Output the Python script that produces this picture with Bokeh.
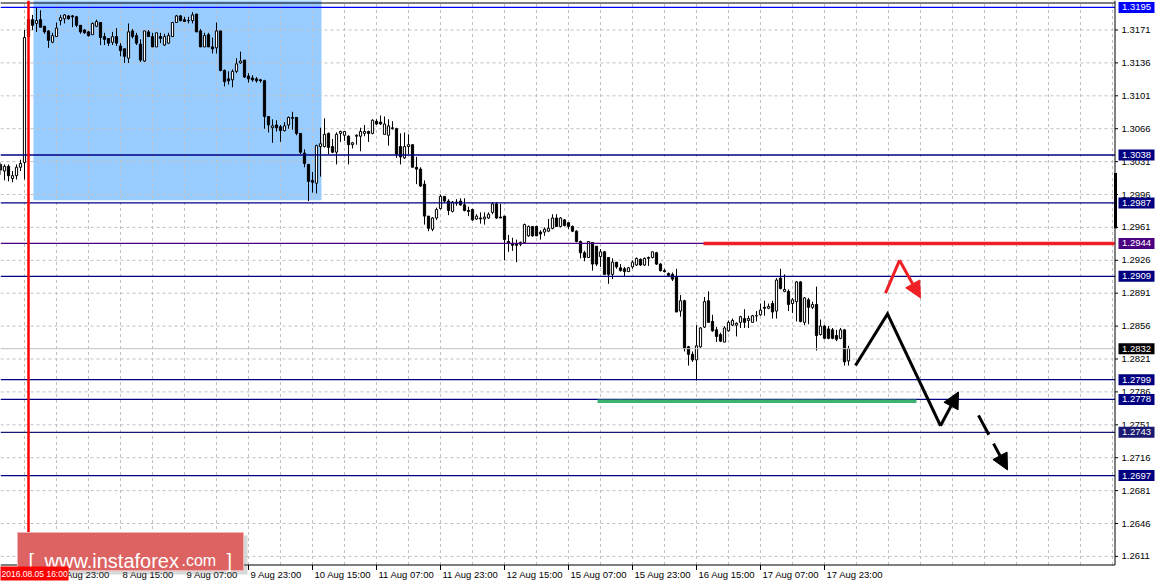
from bokeh.plotting import figure
from bokeh.models import Range1d, Arrow, NormalHead, ColumnDataSource
from bokeh.core.properties import value
from bokeh.embed import file_html
from bokeh.resources import INLINE

# ---------------- data (H1 bars, bar 0 = 2016.08.05 16:00) ----------------
bar_start = -7
opens = [1.3028, 1.3021, 1.3026, 1.3013, 1.3016, 1.3025, 1.3030,
 1.3164, 1.3182, 1.3178, 1.3182, 1.3175, 1.3170, 1.3158, 1.3164, 1.3181, 1.3183,
 1.3186, 1.3186, 1.3185, 1.3176, 1.3171, 1.3169, 1.3166, 1.3175, 1.3179, 1.3164,
 1.3162, 1.3158, 1.3164, 1.3154, 1.3151, 1.3141, 1.3170, 1.3165, 1.3156, 1.3138,
 1.3169, 1.3164, 1.3153, 1.3164, 1.3155, 1.3157, 1.3164, 1.3179, 1.3186, 1.3182,
 1.3181, 1.3181, 1.3188, 1.3170, 1.3153, 1.3166, 1.3153, 1.3152, 1.3170, 1.3128,
 1.3119, 1.3118, 1.3127, 1.3136, 1.3139, 1.3122, 1.3120, 1.3119, 1.3118, 1.3117,
 1.3079, 1.3067, 1.3070, 1.3068, 1.3064, 1.3070, 1.3077, 1.3078, 1.3061, 1.3040,
 1.3028, 1.3011, 1.3008, 1.3047, 1.3047, 1.3061, 1.3047, 1.3041, 1.3061, 1.3059,
 1.3058, 1.3049, 1.3058, 1.3058, 1.3061, 1.3063, 1.3061, 1.3074, 1.3073, 1.3060,
 1.3059, 1.3066, 1.3066, 1.3047, 1.3035, 1.3047, 1.3049, 1.3025, 1.3023, 1.3007,
 1.2973, 1.2959, 1.2971, 1.2981, 1.2994, 1.2989, 1.2978, 1.2987, 1.2989, 1.2985,
 1.2979, 1.2980, 1.2970, 1.2971, 1.2970, 1.2971, 1.2977, 1.2986, 1.2972, 1.2973,
 1.2946, 1.2944, 1.2943, 1.2943, 1.2945, 1.2952, 1.2962, 1.2962, 1.2956, 1.2956,
 1.2957, 1.2960, 1.2971, 1.2962, 1.2969, 1.2966, 1.2962, 1.2957, 1.2946, 1.2934,
 1.2929, 1.2945, 1.2941, 1.2930, 1.2935, 1.2929, 1.2911, 1.2924, 1.2918, 1.2917,
 1.2914, 1.2919, 1.2921, 1.2927, 1.2921, 1.2928, 1.2929, 1.2934, 1.2922, 1.2915,
 1.2912, 1.2911, 1.2908, 1.2872, 1.2883, 1.2834, 1.2826, 1.2820, 1.2834, 1.2855,
 1.2883, 1.2861, 1.2852, 1.2847, 1.2839, 1.2851, 1.2857, 1.2857, 1.2860, 1.2864,
 1.2862, 1.2860, 1.2867, 1.2868, 1.2876, 1.2875, 1.2880, 1.2872, 1.2907, 1.2893,
 1.2893, 1.2880, 1.2882, 1.2903, 1.2860, 1.2884, 1.2876, 1.2879, 1.2847, 1.2856,
 1.2853, 1.2852, 1.2846, 1.2843, 1.2852, 1.2819]
highs = [1.3030, 1.3028, 1.3028, 1.3021, 1.3028, 1.3033, 1.3171,
 1.3184, 1.3187, 1.3195, 1.3192, 1.3175, 1.3171, 1.3168, 1.3179, 1.3187, 1.3188,
 1.3187, 1.3187, 1.3186, 1.3176, 1.3172, 1.3170, 1.3179, 1.3182, 1.3179, 1.3168,
 1.3162, 1.3169, 1.3173, 1.3157, 1.3151, 1.3178, 1.3172, 1.3168, 1.3161, 1.3170,
 1.3171, 1.3168, 1.3168, 1.3168, 1.3167, 1.3168, 1.3179, 1.3187, 1.3187, 1.3185,
 1.3185, 1.3190, 1.3188, 1.3172, 1.3168, 1.3168, 1.3163, 1.3179, 1.3170, 1.3129,
 1.3127, 1.3129, 1.3141, 1.3148, 1.3139, 1.3125, 1.3123, 1.3121, 1.3119, 1.3118,
 1.3079, 1.3076, 1.3075, 1.3070, 1.3073, 1.3079, 1.3084, 1.3078, 1.3061, 1.3044,
 1.3028, 1.3020, 1.3049, 1.3067, 1.3077, 1.3062, 1.3055, 1.3062, 1.3064, 1.3063,
 1.3059, 1.3052, 1.3060, 1.3067, 1.3070, 1.3064, 1.3076, 1.3076, 1.3080, 1.3079,
 1.3076, 1.3074, 1.3067, 1.3061, 1.3062, 1.3060, 1.3049, 1.3036, 1.3025, 1.3011,
 1.2973, 1.2972, 1.2982, 1.2996, 1.2994, 1.2991, 1.2989, 1.2991, 1.2992, 1.2992,
 1.2983, 1.2981, 1.2975, 1.2977, 1.2977, 1.2977, 1.2988, 1.2988, 1.2986, 1.2973,
 1.2953, 1.2950, 1.2948, 1.2946, 1.2965, 1.2963, 1.2962, 1.2963, 1.2958, 1.2961,
 1.2970, 1.2975, 1.2975, 1.2972, 1.2970, 1.2966, 1.2963, 1.2958, 1.2947, 1.2936,
 1.2946, 1.2945, 1.2941, 1.2938, 1.2936, 1.2929, 1.2928, 1.2924, 1.2922, 1.2919,
 1.2919, 1.2926, 1.2929, 1.2928, 1.2929, 1.2930, 1.2935, 1.2935, 1.2923, 1.2917,
 1.2913, 1.2913, 1.2917, 1.2889, 1.2884, 1.2835, 1.2829, 1.2857, 1.2855, 1.2887,
 1.2893, 1.2868, 1.2855, 1.2849, 1.2856, 1.2862, 1.2864, 1.2860, 1.2867, 1.2874,
 1.2867, 1.2868, 1.2872, 1.2880, 1.2883, 1.2880, 1.2883, 1.2907, 1.2917, 1.2911,
 1.2895, 1.2886, 1.2904, 1.2904, 1.2887, 1.2886, 1.2882, 1.2898, 1.2863, 1.2857,
 1.2856, 1.2854, 1.2852, 1.2854, 1.2853, 1.2835]
lows = [1.3017, 1.3011, 1.3010, 1.3009, 1.3012, 1.3021, 1.3012,
 1.3163, 1.3171, 1.3169, 1.3174, 1.3167, 1.3152, 1.3157, 1.3164, 1.3176, 1.3178,
 1.3182, 1.3174, 1.3174, 1.3167, 1.3167, 1.3164, 1.3166, 1.3174, 1.3155, 1.3155,
 1.3154, 1.3155, 1.3154, 1.3143, 1.3136, 1.3136, 1.3162, 1.3155, 1.3137, 1.3137,
 1.3164, 1.3153, 1.3153, 1.3157, 1.3154, 1.3156, 1.3164, 1.3179, 1.3180, 1.3180,
 1.3178, 1.3178, 1.3169, 1.3153, 1.3153, 1.3153, 1.3146, 1.3146, 1.3127, 1.3111,
 1.3113, 1.3110, 1.3125, 1.3135, 1.3120, 1.3115, 1.3116, 1.3115, 1.3115, 1.3066,
 1.3062, 1.3051, 1.3063, 1.3052, 1.3063, 1.3066, 1.3065, 1.3059, 1.3039, 1.3025,
 1.2989, 1.2998, 1.2997, 1.3015, 1.3046, 1.3039, 1.3040, 1.3028, 1.3052, 1.3053,
 1.3028, 1.3045, 1.3049, 1.3042, 1.3058, 1.3052, 1.3060, 1.3070, 1.3070, 1.3060,
 1.3048, 1.3065, 1.3035, 1.3028, 1.3034, 1.3039, 1.3025, 1.3007, 1.3004, 1.2964,
 1.2957, 1.2957, 1.2969, 1.2980, 1.2987, 1.2974, 1.2977, 1.2984, 1.2984, 1.2978,
 1.2973, 1.2968, 1.2969, 1.2965, 1.2964, 1.2970, 1.2975, 1.2970, 1.2971, 1.2926,
 1.2935, 1.2936, 1.2924, 1.2941, 1.2944, 1.2951, 1.2951, 1.2952, 1.2948, 1.2952,
 1.2956, 1.2959, 1.2962, 1.2961, 1.2962, 1.2959, 1.2956, 1.2945, 1.2928, 1.2925,
 1.2929, 1.2915, 1.2920, 1.2919, 1.2911, 1.2901, 1.2906, 1.2917, 1.2914, 1.2909,
 1.2914, 1.2917, 1.2920, 1.2920, 1.2920, 1.2920, 1.2928, 1.2921, 1.2914, 1.2913,
 1.2909, 1.2904, 1.2871, 1.2866, 1.2829, 1.2814, 1.2818, 1.2798, 1.2833, 1.2854,
 1.2860, 1.2850, 1.2839, 1.2839, 1.2839, 1.2850, 1.2856, 1.2845, 1.2854, 1.2854,
 1.2854, 1.2860, 1.2861, 1.2867, 1.2867, 1.2874, 1.2864, 1.2864, 1.2895, 1.2892,
 1.2872, 1.2870, 1.2861, 1.2860, 1.2857, 1.2858, 1.2874, 1.2830, 1.2846, 1.2842,
 1.2842, 1.2842, 1.2840, 1.2842, 1.2814, 1.2814]
closes = [1.3022, 1.3026, 1.3016, 1.3016, 1.3025, 1.3029, 1.3163,
 1.3182, 1.3176, 1.3181, 1.3174, 1.3169, 1.3160, 1.3165, 1.3173, 1.3184, 1.3187,
 1.3183, 1.3185, 1.3176, 1.3169, 1.3168, 1.3165, 1.3178, 1.3180, 1.3163, 1.3161,
 1.3157, 1.3164, 1.3157, 1.3149, 1.3143, 1.3169, 1.3164, 1.3157, 1.3139, 1.3170,
 1.3164, 1.3153, 1.3168, 1.3162, 1.3164, 1.3165, 1.3179, 1.3186, 1.3181, 1.3180,
 1.3181, 1.3187, 1.3169, 1.3153, 1.3165, 1.3153, 1.3151, 1.3170, 1.3128, 1.3116,
 1.3117, 1.3127, 1.3135, 1.3138, 1.3121, 1.3119, 1.3118, 1.3117, 1.3117, 1.3079,
 1.3070, 1.3069, 1.3067, 1.3064, 1.3069, 1.3078, 1.3078, 1.3061, 1.3041, 1.3029,
 1.3010, 1.3009, 1.3048, 1.3050, 1.3060, 1.3046, 1.3041, 1.3060, 1.3063, 1.3063,
 1.3049, 1.3051, 1.3059, 1.3063, 1.3063, 1.3061, 1.3075, 1.3071, 1.3071, 1.3071,
 1.3069, 1.3067, 1.3039, 1.3036, 1.3047, 1.3049, 1.3025, 1.3023, 1.3005, 1.2973,
 1.2960, 1.2971, 1.2980, 1.2994, 1.2989, 1.2979, 1.2988, 1.2988, 1.2985, 1.2979,
 1.2978, 1.2969, 1.2973, 1.2970, 1.2972, 1.2975, 1.2986, 1.2971, 1.2971, 1.2948,
 1.2944, 1.2942, 1.2942, 1.2945, 1.2964, 1.2962, 1.2952, 1.2952, 1.2954, 1.2959,
 1.2960, 1.2971, 1.2962, 1.2971, 1.2963, 1.2962, 1.2957, 1.2946, 1.2934, 1.2929,
 1.2946, 1.2922, 1.2922, 1.2935, 1.2911, 1.2911, 1.2924, 1.2919, 1.2915, 1.2914,
 1.2918, 1.2924, 1.2928, 1.2921, 1.2928, 1.2929, 1.2935, 1.2922, 1.2915, 1.2914,
 1.2910, 1.2906, 1.2871, 1.2883, 1.2832, 1.2826, 1.2820, 1.2835, 1.2854, 1.2882,
 1.2860, 1.2851, 1.2845, 1.2840, 1.2854, 1.2860, 1.2862, 1.2859, 1.2866, 1.2860,
 1.2864, 1.2867, 1.2867, 1.2873, 1.2875, 1.2877, 1.2871, 1.2905, 1.2896, 1.2895,
 1.2879, 1.2884, 1.2903, 1.2861, 1.2886, 1.2876, 1.2879, 1.2846, 1.2856, 1.2843,
 1.2843, 1.2843, 1.2842, 1.2852, 1.2818, 1.2832]

# time axis labels (bar index -> label)
x_tick_bars = [7, 23, 39, 55, 71, 87, 103, 119, 135, 151, 167, 183, 199]
x_tick_labels = ["5 Aug 23:00", "8 Aug 15:00", "9 Aug 07:00", "9 Aug 23:00",
                 "10 Aug 15:00", "11 Aug 07:00", "11 Aug 23:00", "12 Aug 15:00",
                 "15 Aug 07:00", "15 Aug 23:00", "16 Aug 15:00", "17 Aug 07:00",
                 "17 Aug 23:00"]
cursor_bar = 0
cursor_label = "2016.08.05 16:00"
# price scale labels
y_ticks = [1.2611, 1.2646, 1.2681, 1.2716, 1.2751, 1.2786, 1.2821, 1.2856, 1.2891,
           1.2926, 1.2961, 1.2996, 1.3031, 1.3066, 1.3101, 1.3136, 1.3171]
# horizontal levels
level_prices = [1.3195, 1.3038, 1.2987, 1.2944, 1.2909, 1.2799, 1.2778, 1.2743, 1.2697]
level_colors = ["#0000ff", "#000080", "#000080", "#4b0082", "#000080",
                "#000080", "#000080", "#191970", "#000080"]
last_price = 1.2832
# drawn objects
range_box_bars = [1.25, 73.25]
range_box_prices = [1.2990, 1.3210]
resistance_bars = [168.75, 271.5]
resistance_price = 1.2944
support_bars = [142.25, 222.0]
support_price = 1.2776
zigzag_bars = [206.75, 214.75, 228.0]
zigzag_prices = [1.2814, 1.2869, 1.2750]
rebound_bars = [228.0, 232.5]
rebound_prices = [1.2750, 1.2786]
breakout_bars = [237.5, 244.75]
breakout_prices = [1.2761, 1.2703]
alt_bars = [214.25, 217.75, 223.0]
alt_prices = [1.2891, 1.2926, 1.2886]
edge_bar_prices = [1.3019, 1.2960]

# ---------------- layout helpers (screen px -> data) ----------------
FONT = "Liberation Sans"
FS = "9.5px"
W, H = 1158, 584


def dx(px):
    return (px - 28) / 4.0


def dy(py):
    return 1.3171 - (py - 29.5) / 9400.0


def hpx(n):  # n pixels expressed in price units
    return n / 9400.0


X_R = dx(1114.5)     # price-scale border
Y_B = dy(564.5)      # time-scale border

p = figure(width=W, height=H, output_backend="svg", toolbar_location=None,
           x_range=Range1d(dx(0), dx(W)), y_range=Range1d(dy(H), dy(0)),
           x_axis_location=None, y_axis_location=None, min_border=0,
           outline_line_color=None, background_fill_color="white",
           border_fill_color="white")
p.xgrid.visible = False
p.ygrid.visible = False

# background range rectangle
p.quad(left=[range_box_bars[0]], right=[range_box_bars[1]],
       bottom=[range_box_prices[0]], top=[range_box_prices[1]],
       fill_color="#99ccff", line_color=None, level="image")

# grid
grid_bars = list(range(-1, 272, 8))
p.segment(x0=grid_bars, x1=grid_bars, y0=[Y_B] * len(grid_bars), y1=[dy(0)] * len(grid_bars),
          line_color="#c0c0c0", line_dash="3 3", line_width=1, level="underlay")
p.segment(x0=[dx(0)] * len(y_ticks), x1=[X_R] * len(y_ticks), y0=y_ticks, y1=y_ticks,
          line_color="#c0c0c0", line_dash="3 3", line_width=1, level="underlay")

# candles
bars = list(range(bar_start, bar_start + len(opens)))
src = ColumnDataSource(dict(
    x=bars, h=highs, l=lows,
    top=[max(o, c) for o, c in zip(opens, closes)],
    bot=[min(o, c) for o, c in zip(opens, closes)],
    fill=["white" if c >= o else "black" for o, c in zip(opens, closes)],
))
p.segment(x0="x", y0="h", x1="x", y1="l", source=src, line_color="black", line_width=1)
p.vbar(x="x", width=0.55, top="top", bottom="bot", fill_color="fill",
       line_color="black", line_width=1, source=src)

# level lines
p.line(x=[dx(0), X_R], y=[last_price] * 2, line_color="#c0c0c0", line_width=1)
for lv, col in zip(level_prices, level_colors):
    p.line(x=[dx(0), X_R], y=[lv, lv], line_color=col, line_width=1.3)

# frame borders, ticks
p.line(x=[dx(0), X_R], y=[dy(2.5)] * 2, line_color="black", line_width=1)
p.line(x=[X_R, X_R], y=[dy(0), Y_B], line_color="black", line_width=1)
p.line(x=[dx(0), X_R], y=[Y_B, Y_B], line_color="black", line_width=1)
p.segment(x0=x_tick_bars, x1=x_tick_bars, y0=[Y_B] * len(x_tick_bars),
          y1=[dy(569.5)] * len(x_tick_bars), line_color="black", line_width=1)
p.segment(x0=[X_R] * len(y_ticks), x1=[dx(1117.5)] * len(y_ticks), y0=y_ticks, y1=y_ticks,
          line_color="black", line_width=1)

# drawn objects
p.line(x=resistance_bars, y=[resistance_price] * 2, line_color="#ee2026", line_width=3.5)
p.line(x=support_bars, y=[support_price] * 2, line_color="#3cb371", line_width=3.5)
p.line(x=[dx(1115)] * 2, y=edge_bar_prices, line_color="black", line_width=3)

p.line(x=zigzag_bars, y=zigzag_prices, line_color="black", line_width=3, line_join="miter")
p.add_layout(Arrow(end=NormalHead(size=16, fill_color="black", line_color="black"),
                   x_start=rebound_bars[0], y_start=rebound_prices[0],
                   x_end=rebound_bars[1], y_end=rebound_prices[1],
                   line_color="black", line_width=3))
p.add_layout(Arrow(end=NormalHead(size=16, fill_color="black", line_color="black"),
                   x_start=breakout_bars[0], y_start=breakout_prices[0],
                   x_end=breakout_bars[1], y_end=breakout_prices[1],
                   line_color="black", line_width=3, line_dash="22 10"))
p.line(x=alt_bars[:2], y=alt_prices[:2], line_color="#ee2026", line_width=3)
p.add_layout(Arrow(end=NormalHead(size=16, fill_color="#ee2026", line_color="#ee2026"),
                   x_start=alt_bars[1], y_start=alt_prices[1],
                   x_end=alt_bars[2], y_end=alt_prices[2],
                   line_color="#ee2026", line_width=3))

# cursor line
p.line(x=[cursor_bar] * 2, y=[dy(0), Y_B], line_color="#ff0000", line_width=2.5)

# price scale labels
p.text(x=[dx(1121)] * len(y_ticks), y=y_ticks, text=["%.4f" % t for t in y_ticks],
       text_align="left", text_baseline="middle", text_color="black",
       text_font=value(FONT), text_font_size=value(FS))

# level boxes on the price scale
box_prices = level_prices + [last_price]
box_colors = level_colors + ["black"]
p.quad(left=[dx(1118)] * len(box_prices), right=[dx(1154)] * len(box_prices),
       bottom=[b - hpx(5.5) for b in box_prices], top=[b + hpx(5.5) for b in box_prices],
       fill_color=box_colors, line_color=None)
p.text(x=[dx(1136)] * len(box_prices), y=box_prices, text=["%.4f" % b for b in box_prices],
       text_align="center", text_baseline="middle", text_color="white",
       text_font=value(FONT), text_font_size=value(FS))

# time labels
p.text(x=x_tick_bars, y=[dy(574)] * len(x_tick_bars), text=x_tick_labels, x_offset=2,
       text_align="left", text_baseline="middle", text_color="black",
       text_font=value(FONT), text_font_size=value(FS))

# watermark
p.quad(left=[dx(20)], right=[dx(247)], top=[dy(535)], bottom=[dy(574)],
       fill_color="#7a7a7a", fill_alpha=0.3, line_color=None)
p.quad(left=[dx(17)], right=[dx(243)], top=[dy(532)], bottom=[dy(570)],
       fill_color="#dd6262", fill_alpha=1.0, line_color="#f0b4b4", line_width=1)
p.text(x=[dx(28), dx(44), dx(181), dx(226)], y=[dy(560)] * 4,
       text=["[", "www.instaforex", ".com", "]"],
       text_font_size=["20px", "20px", "16px", "20px"],
       text_align="left", text_baseline="alphabetic", text_color="white",
       text_font=value(FONT))

# cursor time box (text kept fully inside the window)
p.quad(left=[dx(-12)], right=[dx(68)], top=[dy(566)], bottom=[dy(580)],
       fill_color="#ff0000", line_color=None)
p.text(x=[dx(1)], y=[dy(573)], text=[cursor_label], text_align="left",
       text_baseline="middle", text_color="white", text_font=value(FONT),
       text_font_size=value("8.5px"))

open("out.html", "w").write(file_html(p, INLINE))
